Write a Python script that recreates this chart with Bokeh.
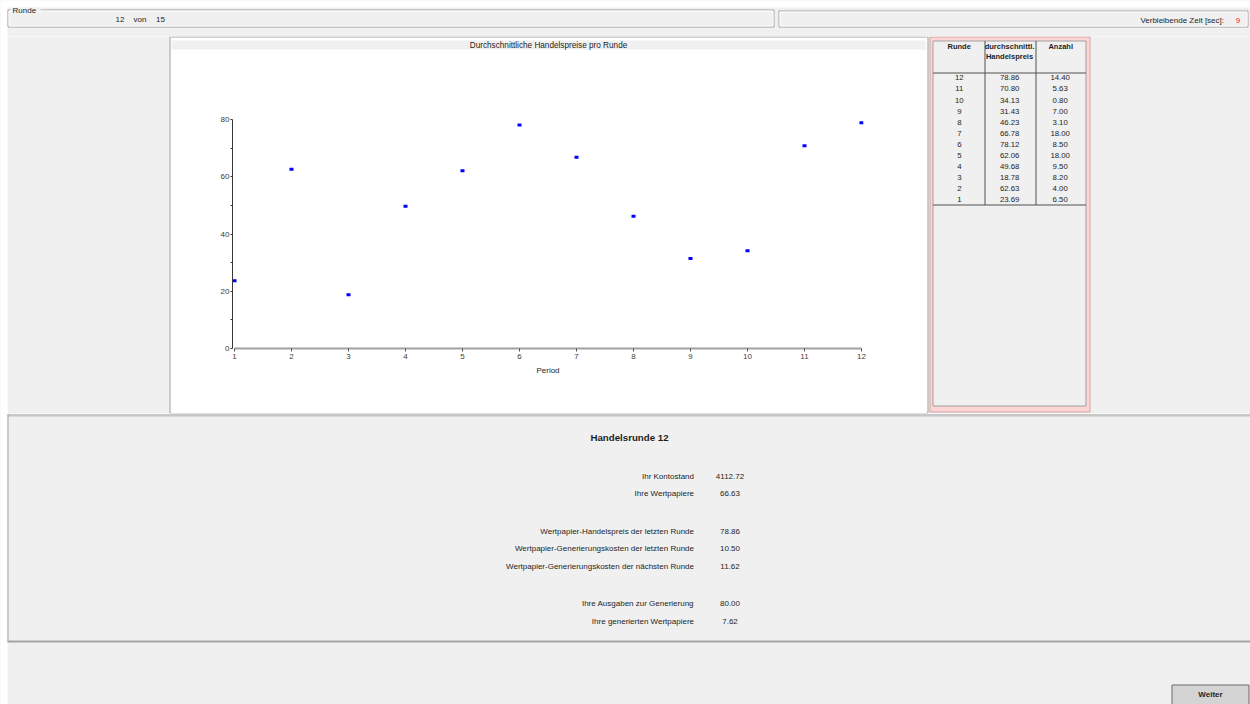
from bokeh.plotting import figure
from bokeh.layouts import row, column
from bokeh.models import Range1d, FixedTicker
from bokeh.core.properties import value
from bokeh.embed import file_html
from bokeh.resources import INLINE

# ---------------- data ----------------
runden = [1, 2, 3, 4, 5, 6, 7, 8, 9, 10, 11, 12]
preise = [23.69, 62.63, 18.78, 49.68, 62.06, 78.12, 66.78, 46.23, 31.43, 34.13, 70.80, 78.86]
anzahl = [6.50, 4.00, 8.20, 9.50, 18.00, 8.50, 18.00, 3.10, 7.00, 0.80, 5.63, 14.40]
y_ticks = [0, 20, 40, 60, 80]
y_minor_ticks = [10, 30, 50, 70]
x_ticks = [1, 2, 3, 4, 5, 6, 7, 8, 9, 10, 11, 12]
chart_title = "Durchschnittliche Handelspreise pro Runde"
x_label = "Period"
table_headers = ["Runde", "durchschnittl.\nHandelspreis", "Anzahl"]
runde_aktuell = 12
runden_gesamt = 15
restzeit_sec = 9
info_labels = [
    "Ihr Kontostand",
    "Ihre Wertpapiere",
    "Wertpapier-Handelspreis der letzten Runde",
    "Wertpapier-Generierungskosten der letzten Runde",
    "Wertpapier-Generierungskosten der nächsten Runde",
    "Ihre Ausgaben zur Generierung",
    "Ihre generierten Wertpapiere",
]
info_values = [4112.72, 66.63, 78.86, 10.50, 11.62, 80.00, 7.62]

# ---------------- style ----------------
FONT = value("Liberation Sans")
BG = "#f0f0f0"
LINE = "#a0a0a0"
TXT = "#1e1e1e"
PINK = "#fdd5d5"
PINK_DARK = "#d6a4a4"

# layout positions (page pixel coordinates)
info_y = [475.5, 493, 530.5, 548, 565.5, 602.5, 620.5]
table_row_y0 = 77.3
table_row_step = 11.1


def draw_chrome(f, bx0, bx1, by0, by1):
    def txt(xs, ys, texts, size="8px", align="left", color=TXT, style="normal"):
        keep = [i for i in range(len(xs)) if bx0 <= xs[i] < bx1 and by0 <= ys[i] < by1]
        if not keep:
            return
        f.text(x=[xs[i] for i in keep], y=[ys[i] for i in keep], text=[texts[i] for i in keep],
               text_font=FONT, text_font_size=size,
               text_align=align, text_baseline="middle", text_color=color,
               text_font_style=style)

    # ---- white page margin ----
    f.quad(left=[0], right=[7], top=[0], bottom=[704], fill_color="white", line_color=None)
    f.quad(left=[0], right=[1250], top=[0], bottom=[7], fill_color="white", line_color=None)

    # ---- header ----
    f.quad(left=[7.5], right=[773.5], top=[9.5], bottom=[26.5], fill_color=None, line_color=LINE)
    f.quad(left=[8.5], right=[772.5], top=[10.5], bottom=[25.5], fill_color=None, line_color="white")
    f.quad(left=[10], right=[40], top=[7], bottom=[10.2], fill_color=BG, line_color=None)
    txt([12], [9.5], ["Runde"])
    txt([119.5, 139.5, 160], [19, 19, 19],
        [str(runde_aktuell), "von", str(runden_gesamt)], align="center")
    f.quad(left=[778.5], right=[1247.5], top=[10.5], bottom=[26.5], fill_color=None, line_color=LINE)
    f.quad(left=[779.5], right=[1246.5], top=[11.5], bottom=[25.5], fill_color=None, line_color="white")
    txt([1223.5], [19.5], ["Verbleibende Zeit [sec]:"], align="right")
    txt([1237.5], [19.5], [str(restzeit_sec)], align="center", color="#ff2020")

    # ---- chart panel frame ----
    f.quad(left=[169.5], right=[927.5], top=[36.5], bottom=[412.5], fill_color="white", line_color=LINE)
    f.quad(left=[171], right=[925], top=[40], bottom=[49], fill_color=BG, line_color=None)
    txt([548], [45], [chart_title], size="8.2px", align="center")

    # ---- table panel ----
    f.quad(left=[929.5], right=[1089.5], top=[36.5], bottom=[411.5], fill_color=PINK, line_color=PINK_DARK)
    f.quad(left=[932.5], right=[1085.5], top=[40.5], bottom=[405.5], fill_color=BG, line_color=LINE)
    f.segment(x0=[932.5, 932.5, 984.5, 1035.5], y0=[72.5, 204.5, 40.5, 40.5],
              x1=[1085.5, 1085.5, 984.5, 1035.5], y1=[72.5, 204.5, 204.5, 204.5],
              line_color="#505050", line_width=1)
    hdr = table_headers[1].split("\n")
    txt([958.7, 1009, 1009, 1060.2], [46, 46, 56, 46],
        [table_headers[0], hdr[0], hdr[1], table_headers[2]],
        size="7.5px", align="center", style="bold")
    order = list(range(len(runden)))[::-1]
    ys = [table_row_y0 + table_row_step * i for i in range(len(order))]
    txt([958.8] * len(order), ys, [str(runden[k]) for k in order], size="7.8px", align="center")
    txt([1009.2] * len(order), ys, ["%.2f" % preise[k] for k in order], size="7.8px", align="center")
    txt([1059.7] * len(order), ys, ["%.2f" % anzahl[k] for k in order], size="7.8px", align="center")

    # ---- bottom panel ----
    f.segment(x0=[7], y0=[414.5], x1=[1250], y1=[414.5], line_color=LINE)
    f.segment(x0=[7], y0=[415.5], x1=[1250], y1=[415.5], line_color="#c4c4c4")
    f.segment(x0=[7.5], y0=[414], x1=[7.5], y1=[641], line_color=LINE)
    f.quad(left=[7], right=[1250], top=[640], bottom=[642], fill_color="#a4a4a4", line_color=None)
    txt([629], [437], ["Handelsrunde %d" % runde_aktuell], size="9.7px", align="center", style="bold")
    txt([693.5] * len(info_labels), info_y, info_labels, align="right")
    txt([729.5] * len(info_values), info_y, ["%.2f" % v for v in info_values], align="center")

    # ---- button ----
    f.quad(left=[1171.5], right=[1248.5], top=[684.5], bottom=[706], fill_color="#d4d4d4", line_color="#6a6a6a")
    txt([1210], [693.5], ["Weiter"], align="center", style="bold")


def panel(x0, x1, y0, y1):
    f = figure(width=x1 - x0, height=y1 - y0, x_range=Range1d(x0, x1), y_range=Range1d(y1, y0),
               output_backend="svg", toolbar_location=None, min_border=0,
               x_axis_type=None, y_axis_type=None,
               background_fill_color=BG, border_fill_color=BG, outline_line_color=None)
    draw_chrome(f, x0, x1, y0, y1)
    return f


# ---------------- chart ----------------
pad = 2.0 / 57.0
chart = figure(width=755, height=360, x_range=Range1d(1 - pad, 12 + pad), y_range=Range1d(0, 80),
               output_backend="svg", toolbar_location=None,
               min_border_left=61, min_border_right=63, min_border_top=69, min_border_bottom=62,
               background_fill_color="white", border_fill_color="white", outline_line_color=None)
chart.grid.visible = False

ya = chart.yaxis[0]
ya.ticker = FixedTicker(ticks=y_ticks, minor_ticks=y_minor_ticks)
ya.axis_line_color = "#383838"
ya.major_tick_line_color = "#383838"
ya.minor_tick_line_color = "#383838"
ya.major_tick_out = 2
ya.major_tick_in = 0
ya.minor_tick_out = 2
ya.minor_tick_in = 0
ya.major_label_standoff = 1
ya.major_label_text_font = "Liberation Sans"
ya.major_label_text_font_size = "8px"
ya.major_label_text_color = "#403a30"

xa = chart.xaxis[0]
xa.ticker = FixedTicker(ticks=x_ticks, minor_ticks=[])
xa.bounds = (1, 12)
xa.axis_line_color = "#a0a0a0"
xa.axis_line_width = 2
xa.major_tick_line_color = "#505050"
xa.major_tick_out = 3
xa.major_tick_in = 0
xa.minor_tick_out = 0
xa.major_label_standoff = 2
xa.major_label_text_font = "Liberation Sans"
xa.major_label_text_font_size = "8px"
xa.major_label_text_color = "#404040"
xa.axis_label = x_label
xa.axis_label_text_font = "Liberation Sans"
xa.axis_label_text_font_size = "8px"
xa.axis_label_text_font_style = "normal"
xa.axis_label_text_color = TXT
xa.axis_label_standoff = 4

chart.rect(x=runden, y=preise, width=4, height=3, width_units="screen", height_units="screen",
           fill_color="#0000ff", line_color=None)

# ---------------- layout ----------------
header = panel(0, 1250, 0, 36)
left = panel(0, 171, 36, 413)
top_strip = panel(171, 926, 36, 50)
bot_strip = panel(171, 926, 410, 413)
right = panel(926, 1250, 36, 413)
bottom = panel(0, 1250, 413, 704)

layout = column(header,
                row(left, column(row(top_strip), chart, row(bot_strip)), right),
                bottom)

open("out.html", "w").write(file_html(layout, INLINE))
